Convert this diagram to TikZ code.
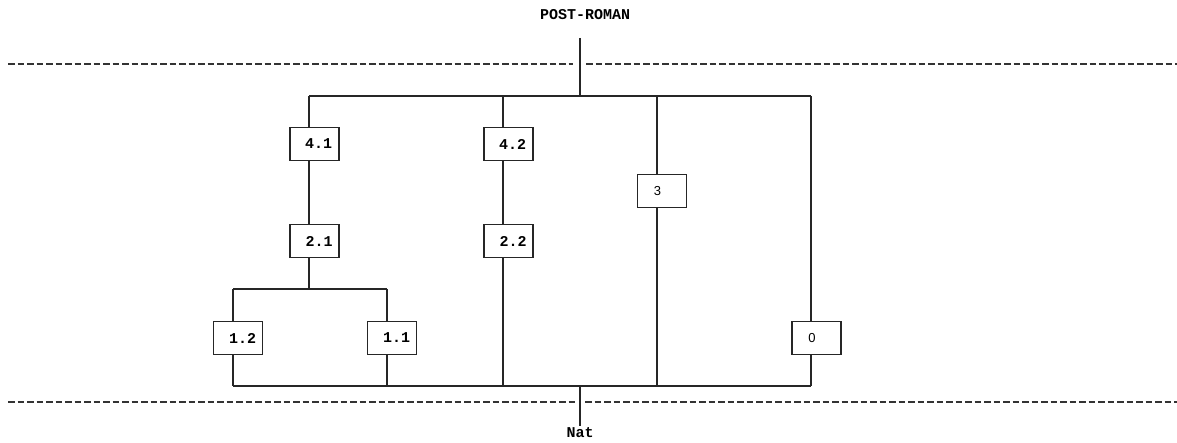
\documentclass[tikz,border=0pt]{standalone}
\usepackage{fontspec}
\setmonofont{Liberation Mono}
\setsansfont{Liberation Sans}
\begin{document}
\begin{tikzpicture}[x=1pt,y=-1pt,
  wire/.style={line width=1.5pt,draw=black!85},
  sep/.style={line width=1.4pt,draw=black!80,dash pattern=on 6.5pt off 3pt},
  box/.style={draw=black!85,line width=1.6pt,fill=white,minimum width=49pt,minimum height=33pt,inner sep=0pt,
     font=\fontsize{15}{17}\selectfont\ttfamily\bfseries},
  sbox/.style={box,font=\fontsize{13}{15}\selectfont\sffamily},
  lbl/.style={font=\fontsize{15}{17}\selectfont\ttfamily\bfseries,inner sep=0pt}]
\useasboundingbox (0,0) rectangle (1177,443);
% labels
\node[lbl] (post) at (585,15) {POST-ROMAN};
\node[lbl] (nat) at (580,433) {Nat};
% separator lines
\draw[sep] (8,64) -- (573,64);
\draw[sep] (586,64) -- (1177,64);
\draw[sep] (8,402) -- (575,402);
\draw[sep] (585,402) -- (1177,402);
% boxes
\node[box] (b41) at (314.5,144) {\hspace*{8pt}4.1};
\node[box] (b21) at (314.5,241) {\hspace*{9pt}2.1};
\node[box] (b42) at (508.5,144) {\hspace*{8pt}4.2};
\node[box] (b22) at (508.5,241) {\hspace*{9pt}2.2};
\node[sbox] (b3) at (662,191) {3\hspace*{9pt}};
\node[box] (b12) at (238,338) {\hspace*{9pt}1.2};
\node[box] (b11) at (392,338) {\hspace*{9pt}1.1};
\node[sbox] (b0) at (816.5,338) {0\hspace*{9pt}};
% bus coordinates
\coordinate (topIn) at (580,38);
\coordinate (tM) at (580,96);
\coordinate (tA) at (309,96);
\coordinate (tB) at (503,96);
\coordinate (tC) at (657,96);
\coordinate (tD) at (811,96);
\coordinate (sM) at (309,289);
\coordinate (sL) at (233,289);
\coordinate (sR) at (387,289);
\coordinate (bL) at (233,386);
\coordinate (bR) at (811,386);
\coordinate (bM) at (580,386);
\coordinate (botOut) at (580,426);
% connectors
\draw[wire] (topIn) -- (tM);
\draw[wire] (tA) -- (tD);
\draw[wire] (tA) -- (tA |- b41.north);
\draw[wire] (tA |- b41.south) -- (tA |- b21.north);
\draw[wire] (tA |- b21.south) -- (sM);
\draw[wire] (sL) -- (sR);
\draw[wire] (sL) -- (sL |- b12.north);
\draw[wire] (sL |- b12.south) -- (bL);
\draw[wire] (sR) -- (sR |- b11.north);
\draw[wire] (sR |- b11.south) -- (sR |- bL);
\draw[wire] (tB) -- (tB |- b42.north);
\draw[wire] (tB |- b42.south) -- (tB |- b22.north);
\draw[wire] (tB |- b22.south) -- (tB |- bL);
\draw[wire] (tC) -- (tC |- b3.north);
\draw[wire] (tC |- b3.south) -- (tC |- bL);
\draw[wire] (tD) -- (tD |- b0.north);
\draw[wire] (tD |- b0.south) -- (bR);
\draw[wire] (bL) -- (bR);
\draw[wire] (bM) -- (botOut);
\end{tikzpicture}
\end{document}
